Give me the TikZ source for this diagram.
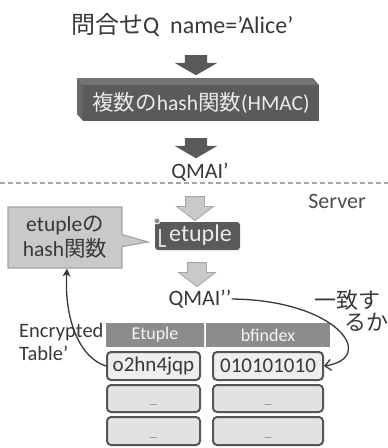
\documentclass[tikz,border=0pt]{standalone}
\usepackage{fontspec}
\setmainfont{Carlito}
\newfontfamily\jp{Noto Sans CJK JP}
\usetikzlibrary{shapes.arrows,shapes.callouts,arrows.meta}
\definecolor{txtg}{HTML}{383838}
\definecolor{darkg}{HTML}{5A5A5A}
\definecolor{lightg}{HTML}{C9C9C9}
\definecolor{lightb}{HTML}{A5A5A5}
\definecolor{hdrg}{HTML}{8C8C8C}
\definecolor{rowb}{HTML}{555555}
\definecolor{rowf}{HTML}{E2E2E2}
\tikzset{
  txt/.style={font=\fontsize{21}{24}\selectfont, text=txtg, inner sep=0pt},
  blockarrow/.style={single arrow, rotate=-90, inner xsep=0pt, text height=0pt, text depth=0pt,
     single arrow head indent=0pt},
  darrow/.style={blockarrow, fill=darkg, draw=none, inner ysep=11pt, single arrow head extend=10pt,
     minimum height=20pt, single arrow tip angle=120},
  larrow/.style={blockarrow, fill=lightg, draw=lightb, line width=0.8pt, inner ysep=9pt,
     single arrow head extend=9pt, minimum height=24pt, single arrow tip angle=105},
  rowbox/.style={draw=rowb, line width=2pt, rounded corners=4pt, fill=rowf, inner sep=0pt,
     font=\fontsize{21}{24}\selectfont, text=txtg},
  hdr/.style={fill=hdrg, draw=none, inner sep=0pt, minimum height=24pt,
     font=\fontsize{18}{20}\selectfont, text=white!90!hdrg},
  dots/.style={font=\fontsize{9}{9}\selectfont, text=txtg!80, inner sep=0pt},
}
\begin{document}
\begin{tikzpicture}[x=1pt,y=-1pt]
\useasboundingbox (0,0) rectangle (388,448);
% title
\node[txt, font=\fontsize{24}{26}\selectfont, anchor=west] (title) at (71,25) {{\jp 問合せ}Q\ \ name=’Alice’};
\node[darrow] (a1) at (196,62) {};
% 3D box
\fill[darkg!85] (83,85) -- (77,78) -- (313,78) -- (319,85) -- cycle;
\fill[darkg!92] (83,85) -- (77,78) -- (77,114) -- (83,121) -- cycle;
\node[fill=darkg, inner sep=0pt, minimum width=236pt, minimum height=36pt, text=white!92!black,
      font=\fontsize{21.5}{23}\selectfont] (hmac) at (201,103) {{\jp 複数の}hash{\jp 関数}(HMAC)};
\node[darrow] (a2) at (196,145) {};
\node[txt, font=\fontsize{22}{24}\selectfont] (q1) at (200,172) {QMAI’};
% dashed separator
\coordinate (dl) at (0,183);
\coordinate (dr) at (388,183);
\draw[lightb, line width=1.3pt, dash pattern=on 5pt off 3pt] (dl) -- (dr);
\node[txt, font=\fontsize{22}{24}\selectfont, text=txtg!90] (server) at (337,201) {Server};
\node[larrow] (a3) at (195,205) {};
% etuple box
\node[fill=darkg, rounded corners=3pt, inner sep=0pt, minimum width=85pt, minimum height=28pt,
      text=white!92!black, font=\fontsize{24}{26}\selectfont, text height=14pt, text depth=4pt] (et) at (197.5,236) {\hspace{6pt}etuple};
\draw[white!85!black, line width=2pt] (160,229) -- (160,246) -- (166,246);
\fill[darkg!70, draw=white, line width=0.8pt] (157,221) circle (3pt);
% callout
\coordinate (ptip) at (148,242);
\node[rectangle callout, callout absolute pointer={(ptip)}, callout pointer width=12pt, fill=lightg, draw=lightb, line width=1.2pt,
      minimum width=114pt, minimum height=61pt, inner sep=0pt, align=center,
      font=\fontsize{21.5}{25}\selectfont, text=txtg] (co) at (65,237.5) {etuple{\jp の}\\hash{\jp 関数}};
\node[larrow] (a4) at (197,271) {};
\node[txt, font=\fontsize{22}{24}\selectfont] (q2) at (200,299) {QMAI’’};
\node[txt, font=\fontsize{22}{24}\selectfont] (m1) at (347,300) {\jp 一致す};
\node[txt, font=\fontsize{22}{24}\selectfont] (m2) at (366,322) {\jp るか};
% table
\node[hdr, minimum width=99pt] (h1) at (155,335) {Etuple};
\node[hdr, minimum width=124pt] (h2) at (268,335) {bfindex};
\draw[white!85!hdrg, line width=1pt] (h1.north east) -- (h1.south east);
\node[rowbox, fill=rowf!60, minimum width=93pt, minimum height=28pt] (r1a) at (153.5,366) {o2hn4jqp};
\node[rowbox, fill=rowf!60, minimum width=110pt, minimum height=28pt] (r1b) at (268,366) {010101010};
\node[rowbox, minimum width=93pt, minimum height=27pt] (r2a) at (153.5,398.5) {};
\node[rowbox, minimum width=110pt, minimum height=27pt] (r2b) at (268,398.5) {};
\node[rowbox, minimum width=93pt, minimum height=28pt] (r3a) at (153.5,431) {};
\node[rowbox, minimum width=110pt, minimum height=28pt] (r3b) at (268,431) {};
\node[dots] (d2a) at (153.5,406) {---};
\node[dots] (d2b) at (268,406) {---};
\node[dots] (d3a) at (153.5,439) {---};
\node[dots] (d3b) at (268,439) {---};
% labels
\node[txt, font=\fontsize{20.5}{22}\selectfont, anchor=west] (enc) at (19,332) {Encrypted};
\node[txt, font=\fontsize{20.5}{22}\selectfont, anchor=west] (tab) at (19,353) {Table’};
% connectors
\draw[txtg, line width=1.3pt, -{Stealth[length=8pt,width=8pt]}] (r1a.west) .. controls (80,358) and (64,320) .. ([xshift=2pt]co.south);
\draw[txtg, line width=1.3pt, -{Straight Barb[length=6pt,width=11pt]}] (q2.east) .. controls (338,300) and (378,358) .. (r1b.east);
\end{tikzpicture}
\end{document}
